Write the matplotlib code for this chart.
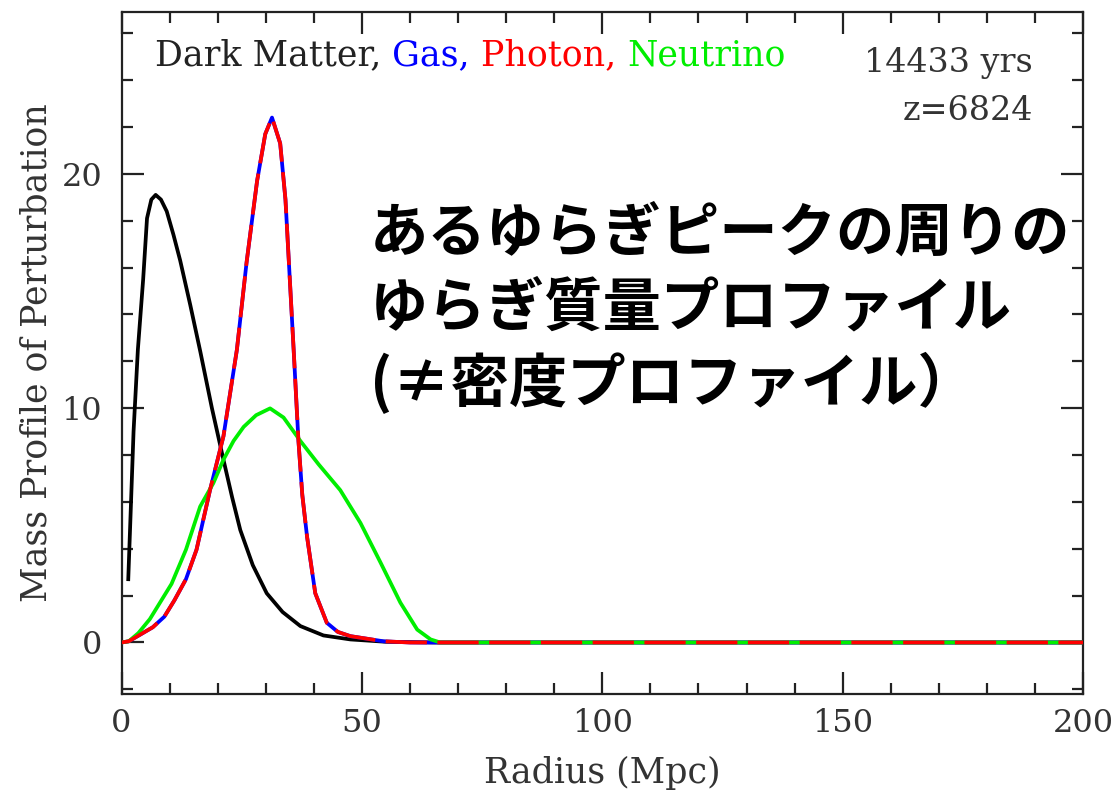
import matplotlib
matplotlib.use("Agg")
import matplotlib.pyplot as plt
from matplotlib.ticker import MultipleLocator

# --- values ---
dm_r = [1.4, 2.5, 3.4, 4.5, 5.3, 6.2, 7.1, 8.2, 9.4, 10.8, 12.2, 14.3, 16.4, 18.8,
        21.2, 23.0, 24.7, 27.3, 30.2, 33.5, 37.2, 42.0, 47.6, 55.0, 65.0, 200.0]
dm_m = [2.7, 9.0, 12.5, 15.5, 18.1, 18.9, 19.1, 18.9, 18.4, 17.4, 16.3, 14.4, 12.4, 10.0,
        7.8, 6.2, 4.8, 3.3, 2.1, 1.3, 0.7, 0.3, 0.13, 0.03, 0.0, 0.0]

gas_r = [0, 1.5, 4, 6.5, 8.9, 11, 13.4, 15.6, 18.4, 21.2, 24, 26, 28.2, 29.9, 31.3,
         33, 34.1, 35.8, 36.8, 37.6, 38.6, 40.3, 42.7, 45, 47.6, 54.5, 60, 200]
gas_m = [0, 0.05, 0.35, 0.65, 1.1, 1.8, 2.7, 3.96, 6.5, 8.8, 12.5, 16.2, 19.7, 21.7, 22.4,
         21.3, 18.9, 12.5, 8.6, 6.3, 4.5, 2.1, 0.84, 0.45, 0.27, 0.05, 0, 0]
photon_r = gas_r
photon_m = gas_m

nu_r = [0, 1.5, 3.5, 5.9, 8, 10.4, 13.4, 16.35, 19.1, 21.2, 23.3, 25.4, 28, 30.9,
        33.7, 37.2, 41, 45.5, 49.7, 53.9, 58, 61.5, 64.3, 66.3, 200]
nu_m = [0, 0.05, 0.4, 1.0, 1.7, 2.5, 3.96, 5.8, 6.8, 7.8, 8.6, 9.2, 9.7, 9.99,
        9.6, 8.6, 7.6, 6.5, 5.1, 3.4, 1.7, 0.55, 0.13, 0, 0]

legend_parts = [("Dark Matter, ", "#222222"), ("Gas, ", "#0000ff"),
                ("Photon, ", "#ff0000"), ("Neutrino", "#00ee00")]
age_text = "14433 yrs"
z_text = "z=6824"
jp_lines = ["あるゆらぎピークの周りの", "ゆらぎ質量プロファイル", "(≠密度プロファイル）"]

plt.rcParams["font.family"] = ["DejaVu Serif"]
txt_col = "#333333"

fig = plt.figure(figsize=(11.17, 7.92), dpi=100)
ax = fig.add_axes([0.1088, 0.1237, 0.8608, 0.861])

lw = 2.7
ax.plot(dm_r, dm_m, color="black", lw=lw, zorder=3)
ax.plot(gas_r, gas_m, color="#0000ff", lw=lw, zorder=4)
ax.plot(nu_r, nu_m, color="#00ee00", lw=lw, zorder=5)
ax.plot(photon_r, photon_m, color="#ff0000", lw=lw, zorder=6,
        dashes=(11, 2.8))

ax.set_xlim(0, 200)
ax.set_ylim(-2.2, 26.9)
ax.xaxis.set_major_locator(MultipleLocator(50))
ax.xaxis.set_minor_locator(MultipleLocator(10))
ax.yaxis.set_major_locator(MultipleLocator(10))
ax.yaxis.set_minor_locator(MultipleLocator(2))
ax.tick_params(which="both", direction="in", top=True, right=True,
               width=1.6, color="#222222")
ax.tick_params(which="major", length=16, pad=14, labelsize=23, labelcolor=txt_col)
ax.tick_params(axis="x", which="major", pad=10)
ax.tick_params(which="minor", length=8)
for s in ax.spines.values():
    s.set_linewidth(1.6)
    s.set_color("#222222")

ax.set_xlabel("Radius (Mpc)", fontsize=25, color=txt_col, labelpad=12)
ax.set_ylabel("Mass Profile of Perturbation", fontsize=25, color=txt_col, labelpad=6)

# multi-coloured legend line
t = ax.text(0.035, 0.922, legend_parts[0][0], transform=ax.transAxes,
            fontsize=25, color=legend_parts[0][1], va="baseline")
for s, c in legend_parts[1:]:
    t = ax.annotate(s, xy=(1, 0), xycoords=t, fontsize=25, color=c,
                    va="bottom", ha="left")

ax.text(0.948, 0.912, age_text, transform=ax.transAxes, fontsize=24,
        color=txt_col, ha="right", va="baseline")
ax.text(0.948, 0.842, z_text, transform=ax.transAxes, fontsize=24,
        color=txt_col, ha="right", va="baseline")

for i, line in enumerate(jp_lines):
    fig.text(0.331, 0.705 - i * 0.095, line, fontsize=42, fontweight="bold",
             family=["Noto Sans CJK JP", "DejaVu Sans"], color="black",
             ha="left", va="center")

fig.savefig("out.png", dpi=100)
